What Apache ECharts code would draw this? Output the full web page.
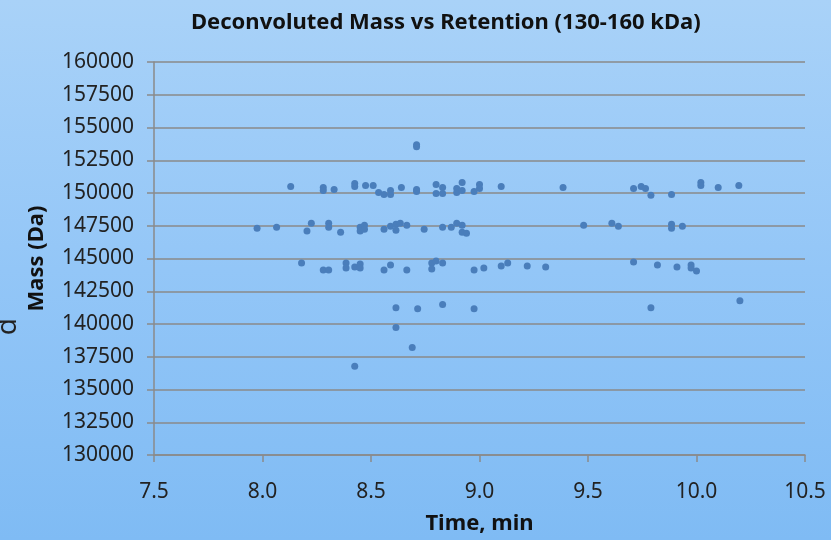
<!DOCTYPE html>
<html>
<head>
<meta charset="utf-8">
<script src="https://cdn.jsdelivr.net/npm/echarts@6/dist/echarts.min.js"></script>
<style>
html,body{margin:0;padding:0;width:831px;height:540px;overflow:hidden;
background:linear-gradient(to bottom,#a9d2f8 0%,#93c6f7 50%,#7fbbf4 100%);}
#c{width:831px;height:540px;}
</style>
</head>
<body>
<div id="c"></div>
<script>
const chartTitle = "Deconvoluted Mass vs Retention (130-160 kDa)";
const xAxisTitle = "Time, min";
const yAxisTitle = "Mass (Da)";

// retention time (min)
const timeValues = [
  8.13, 8.28, 8.28, 8.33, 8.425, 8.425, 8.475, 8.51, 8.535, 8.56, 8.59, 8.59, 8.64,
  8.71, 8.71, 8.71, 8.71, 8.80, 8.80, 8.83, 8.83, 8.895, 8.895, 8.92, 8.92, 8.975,
  9.00, 9.00, 9.10, 9.385, 9.71, 9.745, 9.765, 9.79, 9.885, 10.02, 10.02, 10.10, 10.195,
  7.975, 8.065, 8.205, 8.225, 8.305, 8.305, 8.36, 8.45, 8.45, 8.47, 8.47, 8.56, 8.59,
  8.615, 8.615, 8.635, 8.665, 8.745, 8.83, 8.87, 8.895, 8.92, 8.92, 8.94, 9.48, 9.61,
  9.64, 9.885, 9.885, 9.935,
  8.18, 8.28, 8.305, 8.385, 8.385, 8.425, 8.45, 8.45, 8.56, 8.59, 8.665, 8.78, 8.78,
  8.80, 8.83, 8.975, 9.02, 9.10, 9.13, 9.22, 9.305, 9.71, 9.82, 9.91, 9.975, 9.975, 10.00,
  8.615, 8.715, 8.83, 8.975, 8.615, 8.69, 8.425, 9.79, 10.20
];
// deconvoluted mass (Da)
const massValues = [
  150500, 150420, 150200, 150270, 150730, 150500, 150580, 150580, 150040, 149890, 150200, 149890, 150420,
  153680, 153530, 150270, 150120, 150650, 149970, 150420, 149970, 150350, 150040, 150800, 150200, 150120,
  150650, 150350, 150500, 150420, 150350, 150500, 150350, 149820, 149890, 150800, 150580, 150420, 150580,
  147310, 147390, 147090, 147690, 147690, 147390, 147010, 147390, 147090, 147540, 147240, 147240, 147470,
  147620, 147160, 147690, 147540, 147240, 147390, 147390, 147690, 147540, 147010, 146930, 147540, 147690,
  147470, 147620, 147310, 147470,
  144660, 144130, 144130, 144660, 144280, 144360, 144580, 144280, 144130, 144510, 144130, 144660, 144200,
  144810, 144660, 144130, 144280, 144430, 144660, 144430, 144360, 144740, 144510, 144360, 144510, 144280, 144050,
  141250, 141170, 141480, 141170, 139730, 138210, 136770, 141250, 141780
];

const points = timeValues.map((t, i) => [t, massValues[i]]);

const chart = echarts.init(document.getElementById('c'), null, {renderer: 'canvas'});
const axisGray = '#8a8a8a';
const fontFam = '"Noto Sans", "Open Sans", sans-serif';

chart.setOption({
  backgroundColor: 'transparent',
  animation: false,
  title: {
    text: chartTitle,
    left: 186,
    top: 7,
    textStyle: {fontFamily: fontFam, fontWeight: 'bold', fontSize: 22, color: '#111'}
  },
  grid: {left: 154, right: 26, top: 62, bottom: 82, containLabel: false},
  xAxis: {
    type: 'value',
    min: 7.5, max: 10.5, interval: 0.5,
    name: xAxisTitle,
    nameLocation: 'middle',
    nameGap: 58,
    nameTextStyle: {fontFamily: fontFam, fontWeight: 'bold', fontSize: 22, color: '#111'},
    axisLine: {show: true, lineStyle: {color: axisGray, width: 1.5}},
    axisTick: {show: true, inside: false, length: 7, lineStyle: {color: axisGray, width: 1.5}},
    axisLabel: {fontFamily: fontFam, fontSize: 21, color: '#222', margin: 27,
      formatter: v => v.toFixed(1)},
    splitLine: {show: false}
  },
  yAxis: {
    type: 'value',
    min: 130000, max: 160000, interval: 2500,
    name: yAxisTitle,
    nameLocation: 'middle',
    nameGap: 106,
    nameTextStyle: {fontFamily: fontFam, fontWeight: 'bold', fontSize: 22, color: '#111'},
    axisLine: {show: true, lineStyle: {color: axisGray, width: 1.5}},
    axisTick: {show: true, inside: false, length: 7, lineStyle: {color: axisGray, width: 1.5}},
    axisLabel: {fontFamily: fontFam, fontSize: 21, color: '#222', margin: 20,
      formatter: v => String(v)},
    splitLine: {show: true, lineStyle: {color: axisGray, width: 1.5}}
  },
  graphic: [{
    type: 'text',
    left: -6, top: 318,
    rotation: Math.PI / 2,
    style: {text: 'd', font: '28px "Noto Sans", sans-serif', fill: '#222'}
  }],
  series: [{
    type: 'scatter',
    data: points,
    symbol: 'circle',
    symbolSize: 7,
    itemStyle: {color: '#4a7ebb', opacity: 1},
    emphasis: {disabled: true}
  }]
});
</script>
</body>
</html>
